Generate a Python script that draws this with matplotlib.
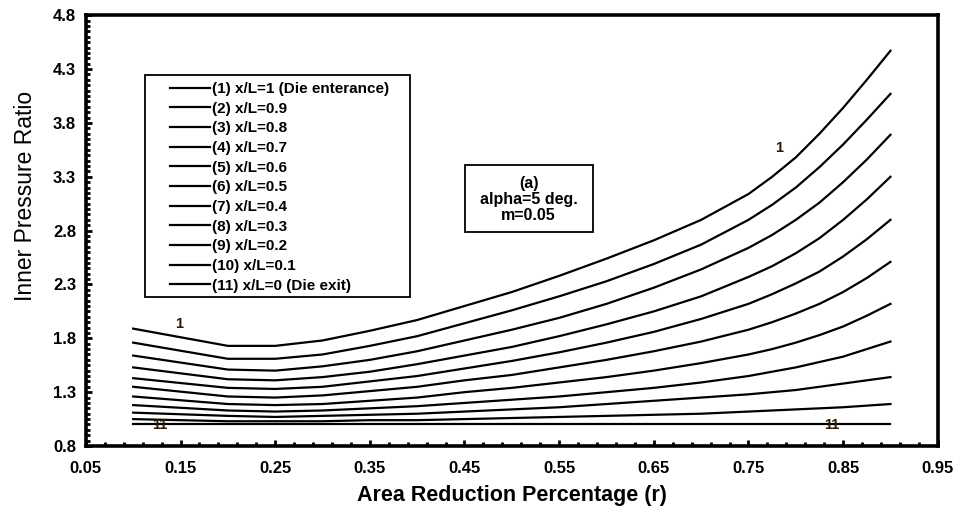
import matplotlib
matplotlib.use("Agg")
import matplotlib.pyplot as plt
from matplotlib.patches import Rectangle
from matplotlib.ticker import MultipleLocator, FormatStrFormatter

plt.rcParams["font.family"] = ["Liberation Sans", "DejaVu Sans"]

# area reduction r
r = [0.10, 0.20, 0.25, 0.30, 0.35, 0.40, 0.45, 0.50, 0.55, 0.60, 0.65, 0.70,
     0.75, 0.775, 0.80, 0.825, 0.85, 0.875, 0.90]

# inner pressure ratio for x/L = 1 ... 0
p1 = [1.89, 1.73, 1.73, 1.78, 1.87, 1.97, 2.10, 2.23, 2.38, 2.54, 2.71, 2.90,
      3.14, 3.30, 3.48, 3.70, 3.94, 4.20, 4.47]
p2 = [1.76, 1.61, 1.61, 1.65, 1.73, 1.82, 1.94, 2.06, 2.19, 2.33, 2.49, 2.67,
      2.90, 3.04, 3.20, 3.39, 3.60, 3.83, 4.07]
p3 = [1.64, 1.51, 1.50, 1.54, 1.60, 1.68, 1.78, 1.88, 1.99, 2.12, 2.27, 2.44,
      2.64, 2.76, 2.90, 3.06, 3.25, 3.46, 3.69]
p4 = [1.53, 1.42, 1.41, 1.44, 1.49, 1.56, 1.64, 1.72, 1.82, 1.93, 2.05, 2.19,
      2.37, 2.47, 2.59, 2.73, 2.90, 3.09, 3.30]
p5 = [1.43, 1.34, 1.33, 1.35, 1.40, 1.45, 1.52, 1.59, 1.67, 1.76, 1.86, 1.98,
      2.12, 2.21, 2.31, 2.42, 2.56, 2.72, 2.90]
p6 = [1.35, 1.26, 1.25, 1.27, 1.31, 1.35, 1.41, 1.46, 1.53, 1.60, 1.68, 1.77,
      1.88, 1.95, 2.03, 2.12, 2.23, 2.36, 2.51]
p7 = [1.26, 1.19, 1.18, 1.19, 1.22, 1.25, 1.30, 1.34, 1.39, 1.44, 1.50, 1.57,
      1.65, 1.70, 1.76, 1.83, 1.91, 2.01, 2.12]
p8 = [1.18, 1.13, 1.12, 1.13, 1.15, 1.17, 1.20, 1.23, 1.26, 1.30, 1.34, 1.39,
      1.45, 1.49, 1.53, 1.58, 1.63, 1.70, 1.77]
p9 = [1.11, 1.08, 1.07, 1.08, 1.09, 1.10, 1.12, 1.14, 1.16, 1.19, 1.22, 1.25,
      1.28, 1.30, 1.32, 1.35, 1.38, 1.41, 1.44]
p10 = [1.05, 1.03, 1.03, 1.03, 1.04, 1.04, 1.05, 1.06, 1.07, 1.08, 1.09, 1.10,
       1.12, 1.13, 1.14, 1.15, 1.16, 1.175, 1.19]
p11 = [1.00] * len(r)

labels = [
    "(1) x/L=1 (Die enterance)",
    "(2) x/L=0.9",
    "(3) x/L=0.8",
    "(4) x/L=0.7",
    "(5) x/L=0.6",
    "(6) x/L=0.5",
    "(7) x/L=0.4",
    "(8) x/L=0.3",
    "(9) x/L=0.2",
    "(10) x/L=0.1",
    "(11) x/L=0 (Die exit)",
]
series = [p1, p2, p3, p4, p5, p6, p7, p8, p9, p10, p11]

fig = plt.figure(figsize=(9.54, 5.08), dpi=100)
ax = fig.add_axes([0.090, 0.122, 0.893, 0.848])

for vals, name in zip(series, labels):
    ax.plot(r, vals, color="black", lw=1.6, label=name)

# curve numbers
num_style = dict(fontsize=10.5, fontweight="bold", color="#2a1a0a", ha="center", va="center")
ax.text(0.149, 1.93, "1", **num_style)
ax.text(0.782, 3.57, "1", **num_style)
ax.text(0.128, 0.995, "11", **num_style)
ax.text(0.838, 0.995, "11", **num_style)

# parameter box
ax.add_patch(Rectangle((0.4445, 0.497), 0.1505, 0.155, transform=ax.transAxes,
                       fill=False, ec="black", lw=1.3, zorder=5))
ax.text(0.5197, 0.573, "(a)\nalpha=5 deg.\nm=0.05", transform=ax.transAxes,
        fontsize=11.5, fontweight="bold", ha="center", va="center", linespacing=1.08)

# legend with its own frame
ax.add_patch(Rectangle((0.0692, 0.346), 0.311, 0.515, transform=ax.transAxes,
                       fill=False, ec="black", lw=1.3, zorder=5))
leg = ax.legend(loc="upper left", bbox_to_anchor=(0.0986, 0.845), frameon=False,
                fontsize=11, handlelength=2.6, handletextpad=0.15,
                labelspacing=0.37, borderpad=0, borderaxespad=0)
for t in leg.get_texts():
    t.set_fontweight("bold")

ax.set_xlim(0.05, 0.95)
ax.set_ylim(0.8, 4.8)
ax.xaxis.set_major_locator(MultipleLocator(0.1, offset=0.05))
ax.xaxis.set_minor_locator(MultipleLocator(0.02, offset=0.01))
ax.yaxis.set_major_locator(MultipleLocator(0.5, offset=0.3))
ax.yaxis.set_minor_locator(MultipleLocator(0.05))
ax.xaxis.set_major_formatter(FormatStrFormatter("%.2f"))
ax.yaxis.set_major_formatter(FormatStrFormatter("%.1f"))
ax.tick_params(which="both", direction="in", width=2, top=False, right=False)
ax.tick_params(which="major", length=4, labelsize=12)
ax.tick_params(axis="x", which="major", pad=11)
ax.tick_params(axis="y", which="major", pad=7)
ax.tick_params(which="minor", length=3)
for lab in ax.get_xticklabels() + ax.get_yticklabels():
    lab.set_fontweight("bold")
for s in ax.spines.values():
    s.set_linewidth(2.6)

ax.set_xlabel("Area Reduction Percentage (r)", fontsize=15.5, fontweight="bold", labelpad=6)
ax.set_ylabel("Inner Pressure Ratio", fontsize=16.5)
ax.yaxis.set_label_coords(-0.057, 0.58)

fig.savefig("out.png", dpi=100)
